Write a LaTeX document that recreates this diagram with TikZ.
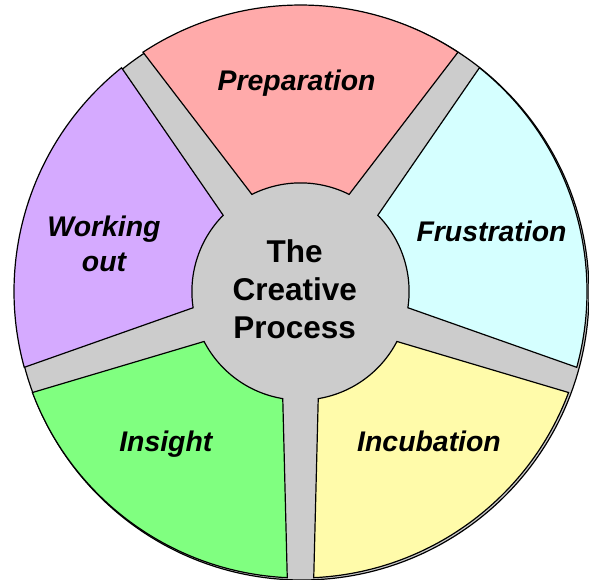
\documentclass[tikz,border=0pt]{standalone}
\usepackage{fontspec}
\setmainfont{Liberation Sans}
\definecolor{ringgray}{HTML}{CCCCCC}
\definecolor{prepcol}{HTML}{FFAAAA}
\definecolor{frustcol}{HTML}{D5FFFF}
\definecolor{incubcol}{HTML}{FFFBAA}
\definecolor{insightcol}{HTML}{80FF80}
\definecolor{workcol}{HTML}{D5AAFF}
% radii and angular offsets of the wedge corners
\def\Ro{286.5}
\def\Ri{108.6}
\def\dO{2.65}
\def\dI{9.4}
% wedge between two spoke angles: #1 colour, #2 upper angle, #3 lower angle
\newcommand\ringwedge[3]{%
  \path[wedge, fill=#1] (#3+\dO:\Ro)
    arc[start angle=#3+\dO, end angle=#2-\dO, radius=\Ro]
    -- (#2-\dI:\Ri)
    arc[start angle=#2-\dI, end angle=#3+\dI, radius=\Ri]
    -- cycle;}
\begin{document}
\begin{tikzpicture}[x=1pt,y=1pt,
  wedge/.style={draw=black, line width=1.2pt, line join=miter},
  phase/.style={font=\fontsize{28.4}{35}\selectfont\bfseries\itshape,
    inner sep=0pt, align=center},
  hub/.style={font=\fontsize{31.5}{38}\selectfont\bfseries,
    inner sep=0pt, align=center}]
\useasboundingbox (0,0) rectangle (589,-580);
% grey disc behind the wedges
\draw[fill=ringgray, line width=1.2pt] (302,-293) circle[radius=287];
\begin{scope}[shift={(300.5,-291.5)}]
  \ringwedge{prepcol}{126}{54}
  \ringwedge{frustcol}{54}{-18}
  \ringwedge{incubcol}{-18}{-90}
  \ringwedge{insightcol}{-90}{-162}
  \ringwedge{workcol}{198}{126}
\end{scope}
% labels
\node[phase, anchor=base] (prep) at (296.6,-91) {Preparation};
\node[phase, anchor=base] (frust) at (491.5,-241.7) {Frustration};
\node[phase, anchor=base] (incub) at (429,-451.7) {Incubation};
\node[phase, anchor=base] (insight) at (165.8,-451.7) {Insight};
\node[phase] (work) at (104,-243.4) {Working\\out};
\node[hub] (hub) at (294.7,-288.8) {The\\Creative\\Process};
\end{tikzpicture}
\end{document}
